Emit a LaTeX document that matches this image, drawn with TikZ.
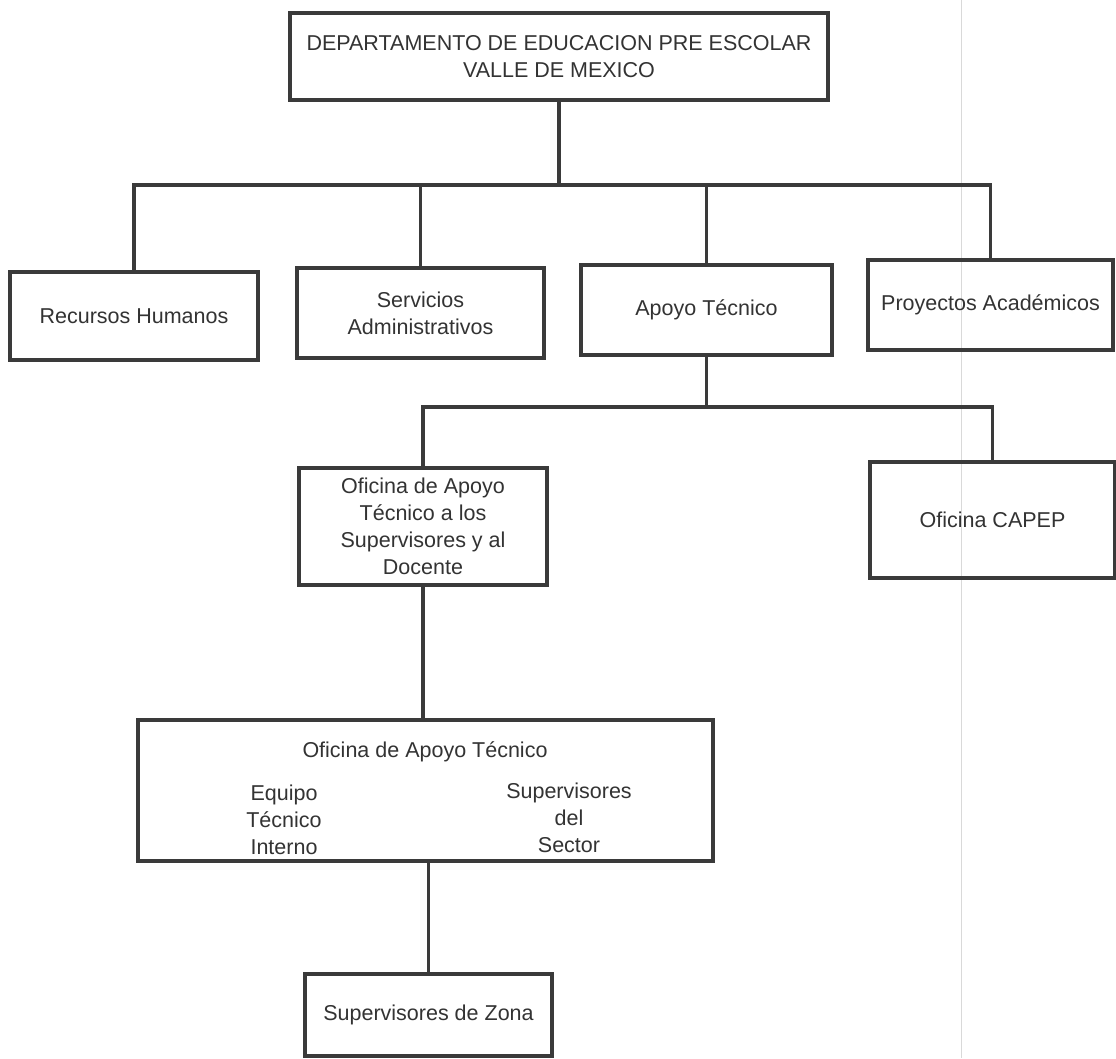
\documentclass[tikz,border=0pt]{standalone}
\usepackage{fontspec}
\setmainfont{Liberation Sans}
\definecolor{ink}{HTML}{333333}
\definecolor{edge}{HTML}{3A3A3A}
\definecolor{fold}{HTML}{D9D9D9}
\begin{document}
\begin{tikzpicture}[x=1pt,y=-1pt,
  orgbox/.style={draw=edge,line width=3.6pt,rectangle,inner sep=0pt,
    align=center,text=ink,font=\fontsize{21.5}{27}\selectfont},
  lbl/.style={inner sep=0pt,align=center,text=ink,font=\fontsize{21.5}{27}\selectfont},
  link/.style={draw=edge,line width=3.6pt}]
\useasboundingbox (0,0) rectangle (1116,1058);
\fill[white] (0,0) rectangle (1116,1058);
% faint scan line
\draw[fold,line width=1pt] (961.5,0) -- (961.5,1058);
% nodes
\node[orgbox,minimum width=538pt,minimum height=87pt] (top) at (559,56.5)
  {DEPARTAMENTO DE EDUCACION PRE ESCOLAR\\VALLE DE MEXICO};
\node[orgbox,minimum width=248pt,minimum height=88pt] (rh) at (134,316) {Recursos Humanos};
\node[orgbox,minimum width=247pt,minimum height=90pt] (sa) at (420.5,313) {Servicios\\Administrativos};
\node[orgbox,minimum width=251pt,minimum height=90pt] (at) at (706.5,310) {Apoyo Técnico};
\node[orgbox,minimum width=245pt,minimum height=90pt] (pa) at (990.5,305) {Proyectos Académicos};
\node[orgbox,minimum width=248pt,minimum height=117pt] (oats) at (423,526.5)
  {Oficina de Apoyo\\Técnico a los\\Supervisores y al\\Docente};
\node[orgbox,minimum width=245pt,minimum height=116pt] (capep) at (992.5,520) {Oficina CAPEP};
\node[orgbox,minimum width=575pt,minimum height=141pt] (oat) at (425.5,790.5) {};
\node[lbl] (oattitle) at (425,752) {Oficina de Apoyo Técnico};
\node[lbl] (eti) at (284,820) {Equipo\\Técnico\\Interno};
\node[lbl] (sds) at (569,818) {Supervisores\\del\\Sector};
\node[orgbox,minimum width=247pt,minimum height=82pt] (sz) at (428.5,1015) {Supervisores de Zona};
% buses
\coordinate (busA) at (0,185);
\coordinate (busB) at (0,407);
\draw[link] (top.south) -- (top.south |- busA);
\draw[link] (rh.north) -- (rh.north |- busA) -- (pa.north |- busA) -- (pa.north);
\draw[link] (sa.north) -- (sa.north |- busA);
\draw[link] (at.north) -- (at.north |- busA);
\draw[link] (at.south) -- (at.south |- busB);
\draw[link] (oats.north) -- (oats.north |- busB) -- (capep.north |- busB) -- (capep.north);
\draw[link] (oats.south) -- (oats.south |- oat.north);
\draw[link] (sz.north |- oat.south) -- (sz.north);
\end{tikzpicture}
\end{document}
